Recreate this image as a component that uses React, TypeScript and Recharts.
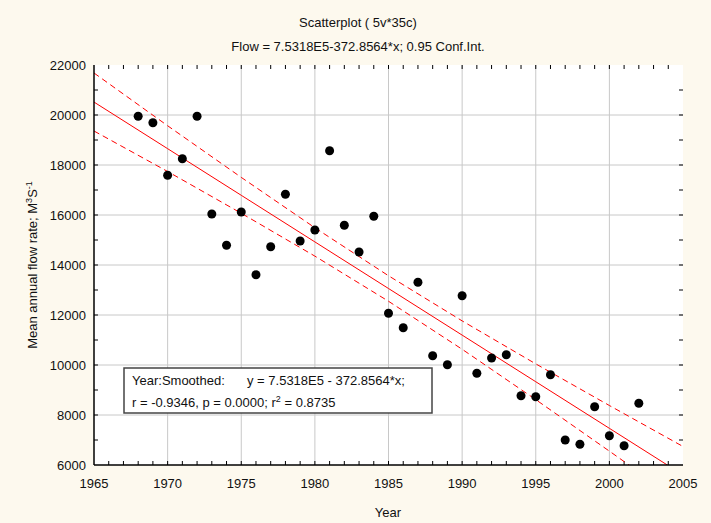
import React from "react";
import { ComposedChart, Scatter, Line, XAxis, YAxis, ReferenceLine } from "recharts";

// observed mean annual flow, one value per year
const years = [
  1968, 1969, 1970, 1971, 1972, 1973, 1974, 1975, 1976, 1977, 1978, 1979,
  1980, 1981, 1982, 1983, 1984, 1985, 1986, 1987, 1988, 1989, 1990, 1991,
  1992, 1993, 1994, 1995, 1996, 1997, 1998, 1999, 2000, 2001, 2002,
];
const flow = [
  19950, 19690, 17590, 18250, 19950, 16040, 14790, 16120, 13610, 14730, 16830, 14960,
  15400, 18570, 15590, 14520, 15950, 12070, 11490, 13310, 10370, 10010, 12770, 9670,
  10280, 10410, 8770, 8730, 9610, 7000, 6830, 8330, 7170, 6770, 8470,
];

// fitted line and 0.95 confidence band, read at 5-year steps
const bandYears = [1965, 1970, 1975, 1980, 1985, 1990, 1995, 2000, 2005];
const fitted = [20517, 18653, 16788, 14924, 13060, 11196, 9331, 7467, 5603];
const upper = [21680, 19570, 17505, 15490, 13570, 11765, 10045, 8380, 6740];
const lower = [19360, 17740, 16070, 14355, 12550, 10630, 8615, 6555, 4470];

const xGrid = [1970, 1975, 1980, 1985, 1990, 1995, 2000];
const yGrid = [8000, 10000, 12000, 14000, 16000, 18000, 20000];
const xMinor = Array.from({ length: 39 }, (_, i) => 1966 + i);
const yMinor = Array.from({ length: 15 }, (_, i) => 7000 + i * 1000);
const yAll = [6000, ...yMinor, 22000];
const xAll = [1965, ...xMinor, 2005];

const points = years.map((year, i) => ({ year, value: flow[i] }));
const toRows = (vals: number[]) => bandYears.map((year, i) => ({ year, value: vals[i] }));

const FONT = "'Liberation Sans', Arial, sans-serif";
const BG = "#fdf9ee";
// inward tick length, in data units (about 4px)
const TX = 0.27;
const TY = 160;

const BottomLabel = (p: any) =>
  p.payload.value % 5 === 0 ? (
    <text x={p.x} y={p.y + 23} textAnchor="middle" fontSize={13} fontFamily={FONT} fill="#111">
      {p.payload.value}
    </text>
  ) : (
    <g />
  );
const LeftLabel = (p: any) =>
  p.payload.value % 2000 === 0 ? (
    <text x={p.x - 8} y={p.y + 5} textAnchor="end" fontSize={13} fontFamily={FONT} fill="#111">
      {p.payload.value}
    </text>
  ) : (
    <g />
  );

const Dot = (p: any) => <circle cx={p.cx} cy={p.cy} r={4.5} fill="#000" />;

const axisLine = { stroke: "#000", strokeWidth: 1.5 };

export default function App() {
  return (
    <div style={{ position: "absolute", left: 0, top: 0, width: 711, height: 523, background: BG }}>
      <div style={{ position: "absolute", left: 94, top: 65, width: 589, height: 400, background: "#fff" }} />
      <div style={{ position: "absolute", left: 0, top: 0 }}>
        <ComposedChart width={711} height={523} margin={{ top: 65, right: 28, bottom: 0, left: 0 }}>
          {xGrid.map((v) => (
            <ReferenceLine key={"x" + v} x={v} stroke="#c8c8c8" strokeWidth={1} />
          ))}
          {yGrid.map((v) => (
            <ReferenceLine key={"y" + v} y={v} stroke="#c8c8c8" strokeWidth={1} />
          ))}
          {xMinor.map((v) => (
            <ReferenceLine key={"tb" + v} segment={[{ x: v, y: 6000 }, { x: v, y: 6000 + TY }]} stroke="#000" />
          ))}
          {xMinor.map((v) => (
            <ReferenceLine key={"tt" + v} segment={[{ x: v, y: 22000 }, { x: v, y: 22000 - TY }]} stroke="#000" />
          ))}
          {yMinor.map((v) => (
            <ReferenceLine key={"tl" + v} segment={[{ x: 1965, y: v }, { x: 1965 + TX, y: v }]} stroke="#000" />
          ))}
          {yMinor.map((v) => (
            <ReferenceLine key={"tr" + v} segment={[{ x: 2005, y: v }, { x: 2005 - TX, y: v }]} stroke="#000" />
          ))}
          <XAxis
            dataKey="year" type="number" domain={[1965, 2005]} ticks={xAll} interval={0}
            allowDataOverflow height={58} tickSize={0} tickMargin={0} tickLine={false}
            tick={<BottomLabel />} axisLine={axisLine}
          />
          <XAxis
            xAxisId="top" orientation="top" dataKey="year" type="number" domain={[1965, 2005]}
            height={0} tickLine={false} tick={false} axisLine={axisLine}
          />
          <YAxis
            type="number" domain={[6000, 22000]} ticks={yAll} interval={0} allowDataOverflow
            width={94} tickSize={0} tickMargin={0} tickLine={false}
            tick={<LeftLabel />} axisLine={axisLine}
          />
          <YAxis
            yAxisId="right" orientation="right" type="number" domain={[6000, 22000]}
            width={0} tickLine={false} tick={false} axisLine={axisLine}
          />
          <Line data={toRows(upper)} dataKey="value" stroke="#ff0000" strokeWidth={1} strokeDasharray="6 4" dot={false} isAnimationActive={false} />
          <Line data={toRows(fitted)} dataKey="value" stroke="#ff0000" strokeWidth={1} dot={false} isAnimationActive={false} />
          <Line data={toRows(lower)} dataKey="value" stroke="#ff0000" strokeWidth={1} strokeDasharray="6 4" dot={false} isAnimationActive={false} />
          <Scatter data={points} dataKey="value" shape={<Dot />} isAnimationActive={false} />
        </ComposedChart>
      </div>

      <svg width={711} height={523} style={{ position: "absolute", left: 0, top: 0, pointerEvents: "none" }}>
        <g fontFamily={FONT} fill="#111">
          <text x={358} y={27} textAnchor="middle" fontSize={13}>Scatterplot ( 5v*35c)</text>
          <text x={358} y={51} textAnchor="middle" fontSize={13}>Flow = 7.5318E5-372.8564*x; 0.95 Conf.Int.</text>
          <text x={388} y={517} textAnchor="middle" fontSize={13}>Year</text>
          <text transform="translate(37,265) rotate(-90)" textAnchor="middle" fontSize={13}>
            Mean annual flow rate; M<tspan dy={-5} fontSize={9}>3</tspan>
            <tspan dy={5}>S</tspan>
            <tspan dy={-5} fontSize={9}>-1</tspan>
          </text>
        </g>
        <rect x={124} y={368} width={308} height={45} fill="#fff" stroke="#444" strokeWidth={1.5} />
        <g fontFamily={FONT} fill="#111" fontSize={13}>
          <text x={132} y={385}>Year:Smoothed:</text>
          <text x={247} y={385}>y = 7.5318E5 - 372.8564*x;</text>
          <text x={132} y={407}>
            r = -0.9346, p = 0.0000; r<tspan dy={-5} fontSize={9}>2</tspan>
            <tspan dy={5}> = 0.8735</tspan>
          </text>
        </g>
      </svg>
    </div>
  );
}
